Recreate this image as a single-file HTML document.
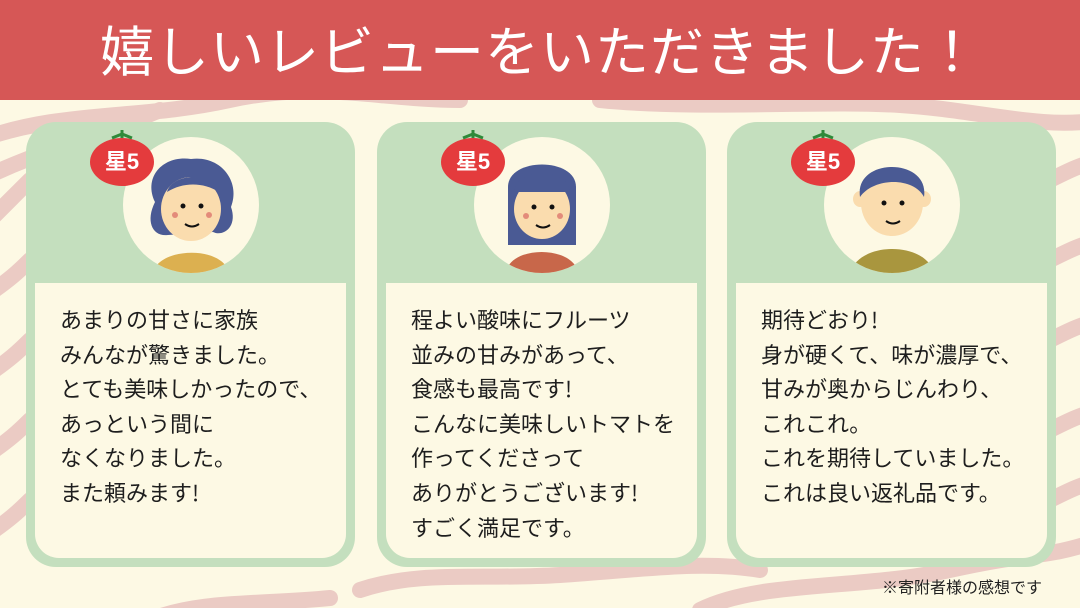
<!DOCTYPE html>
<html><head><meta charset="utf-8"><style>
*{margin:0;padding:0;box-sizing:border-box}
body{width:1080px;height:608px;overflow:hidden;background:#fdf9e4;position:relative;font-family:"Liberation Sans","Noto Sans CJK JP",sans-serif}
#bg{position:absolute;left:0;top:0}
.hdr{position:absolute;left:0;top:0;width:1080px;height:100px;background:#d65756;color:#fff;font-size:54px;text-align:center;line-height:96px;letter-spacing:1px;font-family:"Noto Sans CJK JP",sans-serif;font-weight:400}
.card{position:absolute;top:122px;width:329px;height:445px;background:#c4dfbe;border-radius:30px}
.panel{position:absolute;left:9px;top:161px;width:311px;height:275px;background:#fdf9e4;border-radius:0 0 24px 24px;padding:19px 0 0 25px;font-size:22px;line-height:34.6px;color:#1e1e1e;font-family:"Noto Sans CJK JP",sans-serif;white-space:nowrap}
.circ{position:absolute;left:97px;top:15px;width:136px;height:136px;border-radius:50%;background:#fdf9e4;overflow:hidden}
.badge{position:absolute;left:64px;top:16px;width:64px;height:48px;border-radius:50%;background:#e43b3d;color:#fff;font-weight:bold;font-size:22px;text-align:center;line-height:48px}
.leaf{position:absolute;left:85px;top:8px;width:22px;height:10px}
.note{position:absolute;left:882px;top:574px;font-size:16px;color:#222;font-family:"Noto Sans CJK JP",sans-serif}
</style></head><body>
<svg id="bg" width="1080" height="608">
<g fill="none" stroke="#ebcbc4" stroke-width="16" stroke-linecap="round">
<path d="M-20 140 C60 110 140 120 230 100 S380 100 460 100"/>
<path d="M-20 180 C40 150 90 140 160 110"/>
<path d="M-20 230 C10 200 20 190 30 180"/>
<path d="M-20 300 C10 280 20 270 30 260"/>
<path d="M-20 380 C10 360 20 350 30 340"/>
<path d="M-20 460 C10 440 20 430 30 420"/>
<path d="M-20 540 C10 520 20 510 30 500"/>
<path d="M600 100 C700 110 820 100 900 105 S1040 130 1100 120"/>
<path d="M1050 180 C1070 170 1080 165 1100 160"/>
<path d="M1050 260 C1070 250 1080 245 1100 240"/>
<path d="M1050 340 C1070 330 1080 325 1100 320"/>
<path d="M1050 430 C1070 420 1080 415 1100 410"/>
<path d="M1050 500 C1070 490 1080 485 1100 480"/>
<path d="M360 590 C420 570 480 580 560 575 S700 560 760 570"/>
<path d="M700 610 C760 580 860 590 950 570 S1040 560 1100 540"/>
<path d="M150 620 C200 600 260 605 330 598"/>
</g></svg>
<div class="hdr">嬉しいレビューをいただきました！</div>

<div class="card" style="left:26px">
 <div class="circ"><svg width="136" height="136">
  <path d="M32 65 C20 40 40 18 68 22 C98 18 118 45 108 70 C115 90 100 100 90 95 L45 98 C30 100 22 85 32 65Z" fill="#4a5a94"/>
  <ellipse cx="68" cy="72" rx="30" ry="32" fill="#fadcae"/>
  <path d="M44 55 C50 35 90 35 96 55 C80 45 60 45 44 55Z" fill="#4a5a94"/>
  <circle cx="60" cy="69" r="2.5" fill="#111"/><circle cx="78" cy="69" r="2.5" fill="#111"/>
  <circle cx="52" cy="78" r="3" fill="#e38b7a"/><circle cx="86" cy="78" r="3" fill="#e38b7a"/>
  <path d="M62 87 Q69 92 76 87" stroke="#111" stroke-width="2" fill="none"/>
  <path d="M30 136 C35 110 100 108 106 136Z" fill="#dcb050"/></svg></div>
 <div class="badge">星5</div><svg class="leaf" viewBox="0 0 22 10"><path d="M1 8 L11 4 L21 8 M11 0 L11 8" stroke="#2f8a3a" stroke-width="3" fill="none"/></svg>
 <div class="panel">あまりの甘さに家族<br>みんなが驚きました。<br>とても美味しかったので、<br>あっという間に<br>なくなりました。<br>また頼みます!</div>
</div>

<div class="card" style="left:377px">
 <div class="circ"><svg width="136" height="136">
  <path d="M34 108 L34 50 C34 20 102 20 102 50 L102 108Z" fill="#4a5a94"/>
  <ellipse cx="68" cy="72" rx="28" ry="30" fill="#fadcae"/>
  <path d="M40 55 C42 30 94 30 96 55Z" fill="#4a5a94"/>
  <circle cx="60" cy="70" r="2.5" fill="#111"/><circle cx="78" cy="70" r="2.5" fill="#111"/>
  <circle cx="52" cy="79" r="3" fill="#e38b7a"/><circle cx="86" cy="79" r="3" fill="#e38b7a"/>
  <path d="M62 88 Q69 93 76 88" stroke="#111" stroke-width="2" fill="none"/>
  <path d="M32 136 C35 108 100 108 104 136Z" fill="#c8674a"/></svg></div>
 <div class="badge">星5</div><svg class="leaf" viewBox="0 0 22 10"><path d="M1 8 L11 4 L21 8 M11 0 L11 8" stroke="#2f8a3a" stroke-width="3" fill="none"/></svg>
 <div class="panel">程よい酸味にフルーツ<br>並みの甘みがあって、<br>食感も最高です!<br>こんなに美味しいトマトを<br>作ってくださって<br>ありがとうございます!<br>すごく満足です。</div>
</div>

<div class="card" style="left:727px">
 <div class="circ"><svg width="136" height="136">
  <ellipse cx="36" cy="62" rx="7" ry="8" fill="#fadcae"/><ellipse cx="100" cy="62" rx="7" ry="8" fill="#fadcae"/>
  <ellipse cx="68" cy="66" rx="31" ry="33" fill="#fadcae"/>
  <path d="M36 60 C30 20 106 20 100 60 C90 40 50 40 36 60Z" fill="#4a5a94"/>
  <circle cx="60" cy="66" r="2.5" fill="#111"/><circle cx="78" cy="66" r="2.5" fill="#111"/>
  <path d="M62 84 Q69 89 76 84" stroke="#111" stroke-width="2" fill="none"/>
  <path d="M26 136 C35 104 102 104 110 136Z" fill="#a9963e"/></svg></div>
 <div class="badge">星5</div><svg class="leaf" viewBox="0 0 22 10"><path d="M1 8 L11 4 L21 8 M11 0 L11 8" stroke="#2f8a3a" stroke-width="3" fill="none"/></svg>
 <div class="panel">期待どおり!<br>身が硬くて、味が濃厚で、<br>甘みが奥からじんわり、<br>これこれ。<br>これを期待していました。<br>これは良い返礼品です。</div>
</div>
<div class="note">※寄附者様の感想です</div>
</body></html>
